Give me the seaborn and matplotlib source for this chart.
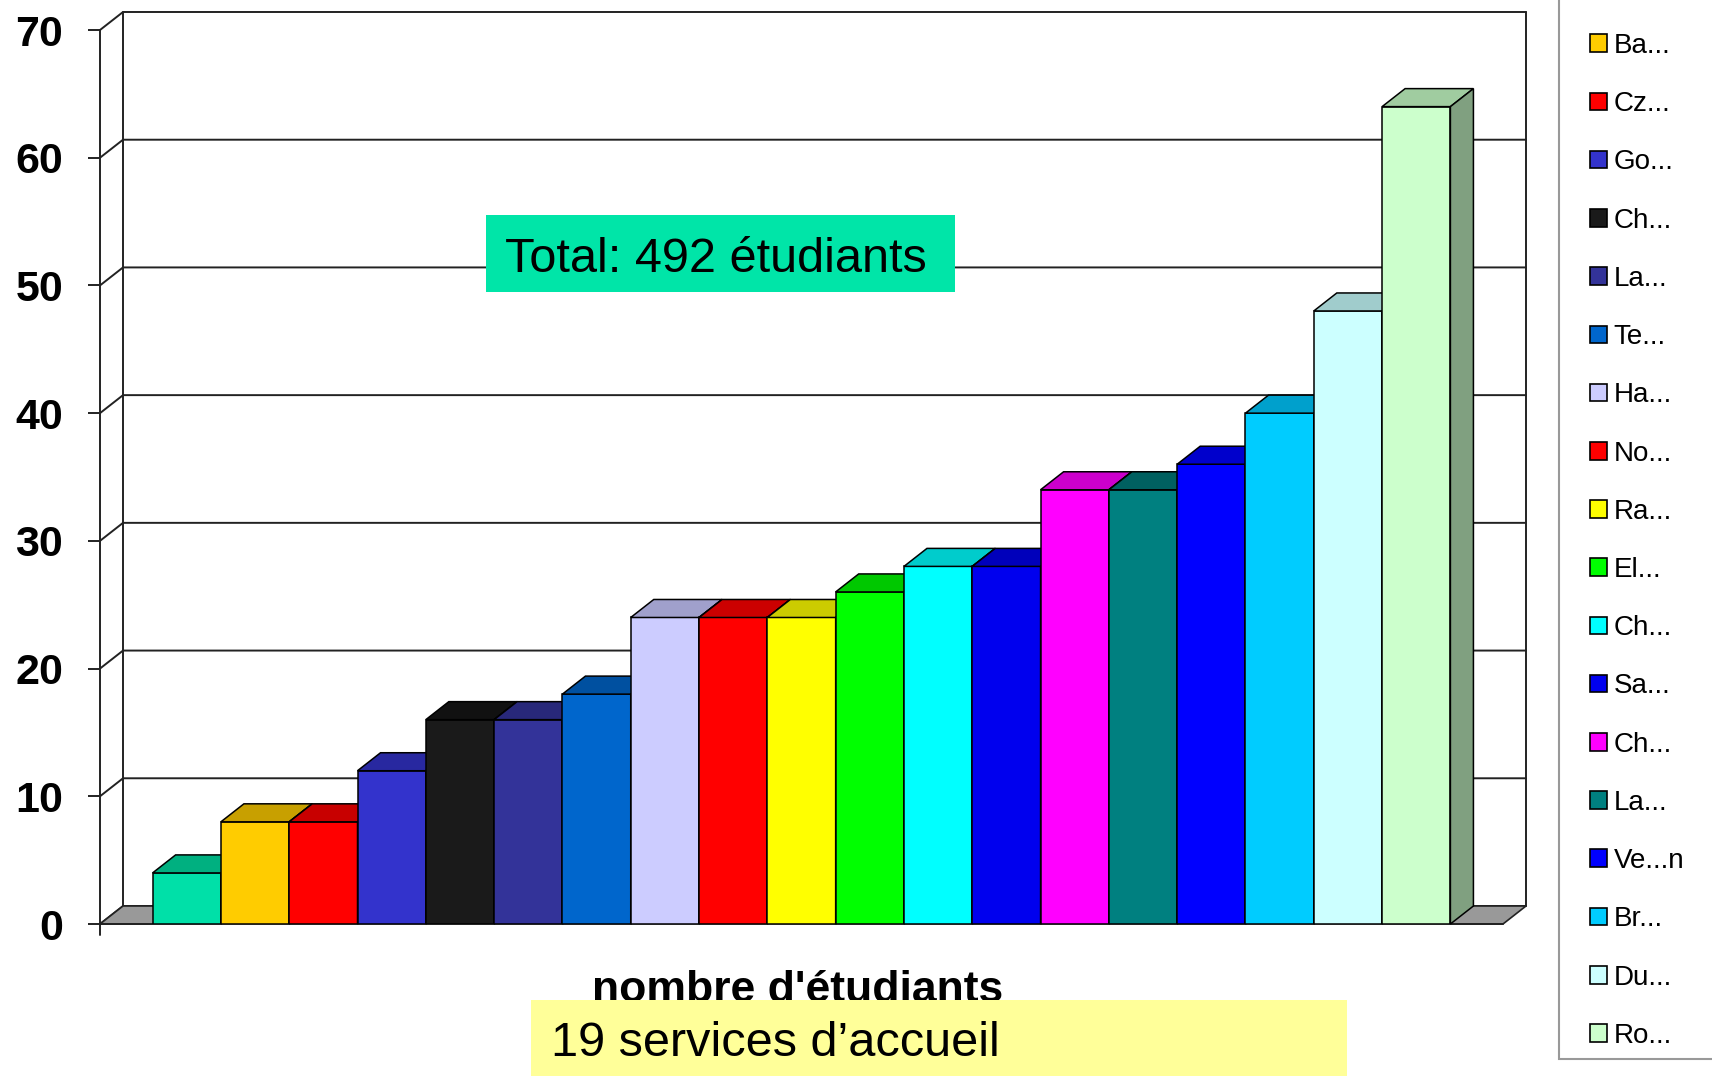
import numpy as np
import pandas as pd
import matplotlib
matplotlib.use("Agg")
import matplotlib.pyplot as plt
import seaborn as sns
from matplotlib.patches import Polygon, Rectangle, Patch

# ---------------- data ----------------
services = [f"S{i+1}" for i in range(19)]
values = [4, 8, 8, 12, 16, 16, 18, 24, 24, 24, 26, 28, 28, 34, 34, 36, 40, 48, 64]
front_colors = ["#00E0A8", "#FFCC00", "#FF0000", "#3333CC", "#1A1A1A", "#333399",
                "#0066CC", "#CCCCFF", "#FF0000", "#FFFF00", "#00FF00", "#00FFFF",
                "#0000EE", "#FF00FF", "#008080", "#0000FF", "#00CCFF", "#CCFFFF", "#CCFFCC"]
top_colors = ["#00B080", "#C8A000", "#C80000", "#2828A0", "#111111", "#28287A",
              "#0050A0", "#A0A0CC", "#CC0000", "#CCCC00", "#00C800", "#00CCCC",
              "#0000BB", "#CC00CC", "#006060", "#0000CC", "#00A0CC", "#A0CCCC", "#A0CCA0"]
side_color_last = "#80A080"
legend_labels = ["Ba...", "Cz...", "Go...", "Ch...", "La...", "Te...", "Ha...", "No...",
                 "Ra...", "El...", "Ch...", "Sa...", "Ch...", "La...", "Ve...n", "Br...",
                 "Du...", "Ro..."]
yticks = [0, 10, 20, 30, 40, 50, 60, 70]
total_text = "Total: 492 étudiants"
xlabel_text = "nombre d'étudiants"
bottom_text = "19 services d’accueil"

# ---------------- style ----------------
sns.set_theme(style="white")
plt.rcParams["font.family"] = ["Liberation Sans", "DejaVu Sans"]
plt.rcParams["text.color"] = "black"
plt.rcParams["ytick.labelcolor"] = "black"

W, H = 1712, 1076
fig = plt.figure(figsize=(W / 100, H / 100), dpi=100)
ax = fig.add_axes([100 / W, 1 - 924 / H, 1403 / W, 894 / H])

df = pd.DataFrame({"service": services, "n": values})
sns.barplot(data=df, x="service", y="n", hue="service", palette=front_colors,
            legend=False, width=1.0, saturation=1, ax=ax,
            edgecolor="black", linewidth=1.1)
bars = sorted(list(ax.patches), key=lambda p: p.get_x())
bars = [b for b in bars if b.get_height() > 0]

xl, xr = -1.27, 19.27
ax.set_xlim(xl, xr)
ax.set_ylim(0, 70)
DX, DY = 0.337, 1.41
gcol = "#222222"

for s in ax.spines.values():
    s.set_visible(False)
ax.set_xticks([])
ax.set_xlabel("")
ax.set_ylabel("")
ax.set_yticks(yticks)
ax.set_yticklabels([str(v) for v in yticks], fontweight="bold", color="black")
ax.tick_params(axis="y", left=True, length=8.6, width=1.4, color=gcol, pad=18, labelsize=31)

# back wall & gridlines
for v in yticks:
    ax.plot([xl, xl + DX, xr + DX], [v, v + DY, v + DY], color=gcol, lw=1.4,
            clip_on=False, zorder=1)
ax.plot([xl + DX, xl + DX], [DY, 70 + DY], color=gcol, lw=1.4, clip_on=False, zorder=1)
ax.plot([xr + DX, xr + DX], [DY, 70 + DY], color=gcol, lw=1.4, clip_on=False, zorder=1)
ax.plot([xl, xl], [0, 70], color=gcol, lw=1.4, clip_on=False, zorder=1)
# floor
ax.add_patch(Polygon([[xl, 0], [xr, 0], [xr + DX, DY], [xl + DX, DY]], closed=True,
                     facecolor="#999999", edgecolor=gcol, lw=1.2, zorder=2, clip_on=False))
ax.plot([xl, xr], [0, 0], color=gcol, lw=1.4, clip_on=False, zorder=2)
ax.plot([xl, xl], [0, -0.9], color=gcol, lw=1.4, clip_on=False, zorder=2)

# 3D faces
for i, b in enumerate(bars):
    x0, w, h = b.get_x(), b.get_width(), b.get_height()
    b.set_zorder(10 + 3 * i)
    top = Polygon([[x0, h], [x0 + w, h], [x0 + w + DX, h + DY], [x0 + DX, h + DY]],
                  closed=True, facecolor=top_colors[i], edgecolor="black", lw=1.1,
                  zorder=11 + 3 * i, clip_on=False)
    ax.add_patch(top)
    sc = side_color_last if i == len(bars) - 1 else top_colors[i]
    side = Polygon([[x0 + w, 0], [x0 + w + DX, DY], [x0 + w + DX, h + DY], [x0 + w, h]],
                   closed=True, facecolor=sc, edgecolor="black", lw=1.1,
                   zorder=12 + 3 * i, clip_on=False)
    ax.add_patch(side)

# x label
fig.text(798 / W, 1 - 1002 / H, xlabel_text, ha="center", va="baseline",
         fontsize=32, fontweight="bold", zorder=5, color="black")

# total box
fig.add_artist(Rectangle((486 / W, 1 - 292 / H), 469 / W, 77 / H, transform=fig.transFigure,
                         facecolor="#00E5A8", edgecolor="none", zorder=6))
fig.text(505 / W, 1 - 259 / H, total_text, ha="left", va="center", fontsize=35, zorder=7,
         color="black")

# bottom yellow box
fig.add_artist(Rectangle((531 / W, 0), 816 / W, 76 / H, transform=fig.transFigure,
                         facecolor="#FFFF99", edgecolor="none", zorder=6))
fig.text(551 / W, 1 - 1044 / H, bottom_text, ha="left", va="center", fontsize=35, zorder=7,
         color="black")

# legend frame
fig.add_artist(Rectangle((1559 / W, 1 - 1059 / H), 0.2, 1.2, transform=fig.transFigure,
                         facecolor="white", edgecolor="#999999", lw=1.5, zorder=3))
handles = [Patch(facecolor=c, edgecolor="black", linewidth=1.2) for c in front_colors[1:]]
leg = fig.legend(handles, legend_labels, loc="upper left",
                 bbox_to_anchor=(1590 / W, 1 - 33 / H), frameon=False, fontsize=20,
                 handlelength=0.6, handleheight=0.6, handletextpad=0.25,
                 labelspacing=1.16, borderaxespad=0, borderpad=0)
for t in leg.get_texts():
    t.set_color("black")
leg.set_zorder(4)

fig.savefig("out.png", dpi=100)
